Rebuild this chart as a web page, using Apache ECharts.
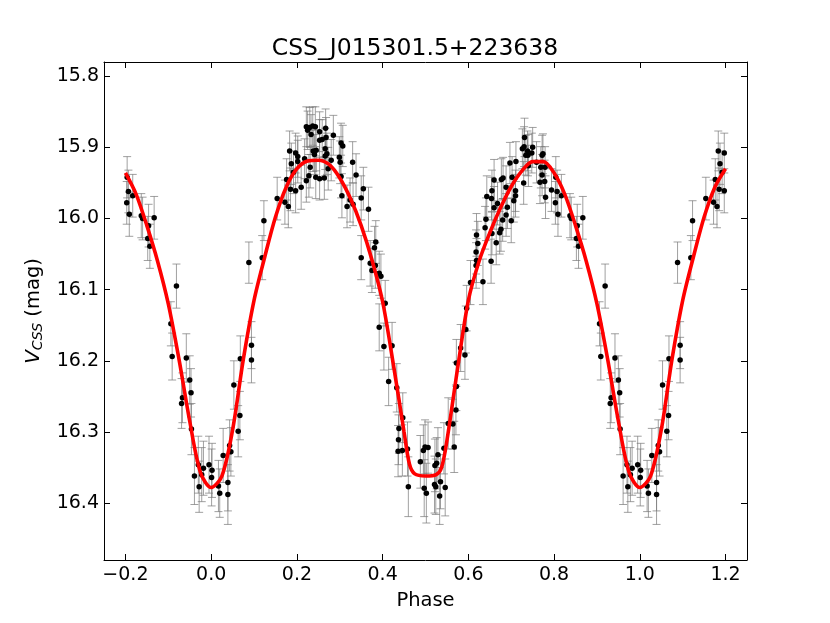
<!DOCTYPE html>
<html>
<head>
<meta charset="utf-8">
<script src="https://cdn.jsdelivr.net/npm/echarts@6/dist/echarts.min.js"></script>
<style>html,body{margin:0;padding:0;background:#fff}#c{width:830px;height:623px}</style>
</head>
<body>
<div id="c"></div>
<script>
const titleText = 'CSS_J015301.5+223638';
const xTicks = [-0.2, 0.0, 0.2, 0.4, 0.6, 0.8, 1.0, 1.2];
const yTicks = [15.8, 15.9, 16.0, 16.1, 16.2, 16.3, 16.4];

// observed photometry (phase 0..1), magnitudes and errors
const phase = [0.001,0.002,0.017,0.020,0.028,0.039,0.039,0.043,0.046,0.053,0.063,0.067,0.068,0.088,0.094,0.094,0.119,0.123,0.154,0.172,
0.176,0.180,0.183,0.185,0.187,0.192,0.197,0.197,0.202,0.202,0.210,0.218,0.222,0.222,0.225,0.228,0.230,0.231,0.233,0.237,
0.238,0.241,0.243,0.244,0.245,0.253,0.253,0.253,0.259,0.264,0.266,0.266,0.267,0.268,0.270,0.273,0.280,0.285,0.299,0.301,
0.303,0.303,0.305,0.307,0.317,0.324,0.330,0.331,0.338,0.350,0.350,0.355,0.367,0.371,0.375,0.381,0.383,0.384,0.392,0.392,
0.396,0.403,0.406,0.414,0.422,0.433,0.436,0.437,0.438,0.446,0.447,0.458,0.460,0.488,0.495,0.497,0.499,0.502,0.506,0.521,
0.522,0.524,0.526,0.529,0.533,0.535,0.543,0.546,0.553,0.564,0.567,0.571,0.572,0.572,0.582,0.592,0.594,0.596,0.605,0.618,
0.618,0.619,0.619,0.622,0.634,0.639,0.641,0.643,0.653,0.654,0.655,0.655,0.660,0.660,0.665,0.668,0.673,0.676,0.677,0.680,
0.681,0.688,0.688,0.691,0.697,0.700,0.702,0.706,0.710,0.710,0.711,0.726,0.729,0.730,0.731,0.734,0.738,0.739,0.740,0.748,
0.750,0.759,0.767,0.769,0.772,0.772,0.774,0.778,0.779,0.780,0.794,0.803,0.804,0.807,0.809,0.817,0.837,0.840,0.852,0.854,
0.857,0.867,0.906,0.909,0.919,0.931,0.933,0.942,0.950,0.953,0.954,0.961,0.970,0.972,0.978,0.982,0.995];
const mag = [16.364,16.354,16.376,16.386,16.333,16.371,16.388,16.319,16.328,16.234,16.299,16.277,16.197,16.062,16.178,16.199,16.055,16.003,15.972,15.977,
15.945,15.983,15.905,15.959,15.923,15.935,15.961,15.908,15.913,15.920,15.956,15.916,15.947,15.871,15.876,15.940,15.872,15.928,15.882,15.870,
15.905,15.910,15.871,15.942,15.904,15.878,15.890,15.944,15.889,15.943,15.902,15.912,15.873,15.886,15.909,15.930,15.918,15.883,15.914,15.921,
15.894,15.941,15.968,15.898,15.983,15.974,15.921,15.980,15.939,15.971,16.055,15.958,15.987,16.063,16.073,16.041,16.066,16.033,16.077,16.153,
16.081,16.180,16.119,16.229,16.179,16.238,16.327,16.311,16.295,16.326,16.280,16.324,16.377,16.342,16.326,16.379,16.321,16.386,16.322,16.374,
16.347,16.377,16.344,16.332,16.390,16.370,16.323,16.378,16.288,16.289,16.321,16.269,16.236,16.203,16.182,16.192,16.156,16.126,16.090,16.066,
16.047,16.059,16.023,16.035,16.089,16.013,16.001,15.969,16.060,15.972,15.961,16.021,15.946,15.985,16.034,15.979,16.020,16.015,15.945,16.002,
15.943,15.956,15.995,15.984,15.922,16.003,15.942,15.975,15.961,15.968,15.920,15.902,15.950,15.899,15.886,15.911,15.905,15.911,15.926,15.908,
15.900,15.921,15.949,15.928,15.911,15.939,15.909,15.948,15.928,15.970,15.960,15.978,15.942,15.962,15.994,15.968,15.996,16.000,16.028,16.010,
16.039,15.999,16.148,16.194,16.095,16.260,16.252,16.196,16.227,16.245,16.296,16.362,16.346,16.377,16.360,16.351,16.346];
const err = [0.040,0.038,0.036,0.034,0.038,0.040,0.042,0.036,0.034,0.034,0.036,0.034,0.032,0.029,0.033,0.032,0.031,0.028,0.030,0.031,
0.029,0.030,0.028,0.030,0.029,0.030,0.031,0.028,0.029,0.030,0.031,0.028,0.030,0.028,0.027,0.030,0.028,0.029,0.028,0.027,
0.029,0.028,0.028,0.030,0.029,0.028,0.029,0.030,0.028,0.030,0.029,0.028,0.027,0.028,0.029,0.030,0.029,0.028,0.029,0.030,
0.028,0.030,0.031,0.029,0.030,0.031,0.029,0.030,0.030,0.031,0.031,0.030,0.031,0.032,0.031,0.030,0.032,0.030,0.031,0.033,
0.031,0.033,0.032,0.034,0.033,0.034,0.036,0.035,0.035,0.036,0.035,0.038,0.042,0.037,0.036,0.040,0.038,0.042,0.036,0.040,
0.037,0.039,0.036,0.038,0.040,0.038,0.036,0.040,0.036,0.035,0.036,0.035,0.034,0.033,0.033,0.034,0.033,0.032,0.031,0.032,
0.031,0.031,0.030,0.031,0.032,0.030,0.030,0.029,0.031,0.030,0.029,0.030,0.029,0.030,0.031,0.030,0.030,0.031,0.029,0.030,
0.029,0.030,0.030,0.030,0.029,0.031,0.029,0.030,0.029,0.030,0.028,0.028,0.030,0.028,0.027,0.028,0.028,0.029,0.029,0.028,
0.028,0.029,0.030,0.029,0.028,0.029,0.028,0.030,0.029,0.030,0.030,0.030,0.029,0.030,0.031,0.030,0.031,0.030,0.031,0.030,
0.031,0.030,0.031,0.033,0.031,0.035,0.035,0.034,0.034,0.034,0.036,0.040,0.040,0.036,0.038,0.038,0.040];

// fitted model curve (one period)
const fitPhase = [0.000,0.025,0.050,0.075,0.100,0.125,0.150,0.175,0.200,0.225,0.250,0.275,0.300,0.325,0.350,0.375,0.400,0.425,0.450,0.4625,
0.475,0.500,0.525,0.5375,0.550,0.575,0.600,0.625,0.650,0.675,0.700,0.725,0.750,0.775,0.800,0.825,0.850,0.875,0.900,0.925,0.950,0.975];
const fitMag = [16.378,16.362,16.297,16.198,16.115,16.054,15.998,15.956,15.930,15.919,15.918,15.924,15.943,15.972,16.010,16.058,16.117,16.205,16.300,16.345,
16.359,16.362,16.360,16.350,16.312,16.210,16.115,16.060,16.020,15.985,15.955,15.933,15.920,15.920,15.936,15.966,16.010,16.060,16.120,16.198,16.285,16.357];

// phase-wrapped copies, as in the original plot (range -0.2 .. 1.2)
const pts = [];
for (let i = 0; i < phase.length; i++) {
  const p = phase[i];
  if (p >= 0.8) pts.push([p - 1, mag[i], err[i]]);
  pts.push([p, mag[i], err[i]]);
  if (p <= 0.2) pts.push([p + 1, mag[i], err[i]]);
}
const fit = [];
for (let i = 0; i < fitPhase.length; i++) {
  const p = fitPhase[i];
  if (p >= 0.8) fit.push([p - 1, fitMag[i]]);
  fit.push([p, fitMag[i]]);
  if (p <= 0.2) fit.push([p + 1, fitMag[i]]);
}
fit.sort((a, b) => a[0] - b[0]);

const FONT = 'DejaVu Sans';
const chart = echarts.init(document.getElementById('c'));
const fmt = v => v.toFixed(1).replace('-', '\u2212');

chart.setOption({
  animation: false,
  backgroundColor: '#fff',
  title: {
    text: titleText, left: 'center', top: 32,
    textStyle: { fontFamily: FONT, fontSize: 23.5, fontWeight: 'normal', color: '#000' }
  },
  grid: { left: 104, right: 83, top: 62, bottom: 63, outerBoundsMode: 'none', containLabel: false },
  xAxis: [{
    type: 'value', min: -0.25, max: 1.25, position: 'bottom',
    name: 'Phase', nameLocation: 'middle', nameGap: 31,
    nameTextStyle: { fontFamily: FONT, fontSize: 19.5, color: '#000' },
    axisLine: { show: true, onZero: false, lineStyle: { color: '#000', width: 1 } },
    axisTick: { show: true, inside: true, length: 6, customValues: xTicks, lineStyle: { color: '#000' } },
    axisLabel: { show: true, customValues: xTicks, formatter: fmt, margin: 6, fontFamily: FONT, fontSize: 19, color: '#000' },
    splitLine: { show: false }
  }, {
    type: 'value', min: -0.25, max: 1.25, position: 'top',
    axisLine: { show: true, onZero: false, lineStyle: { color: '#000', width: 1 } },
    axisTick: { show: true, inside: true, length: 6, customValues: xTicks, lineStyle: { color: '#000' } },
    axisLabel: { show: false },
    splitLine: { show: false }
  }],
  yAxis: [{
    type: 'value', min: 15.78, max: 16.48, inverse: true, position: 'left',
    name: '{v|V}{s|CSS}{n| (mag)}', nameLocation: 'middle', nameGap: 54, nameRotate: 90,
    nameTextStyle: {
      fontFamily: FONT, fontSize: 19.5, color: '#000',
      rich: {
        v: { fontFamily: FONT, fontSize: 20, fontStyle: 'italic', color: '#000', lineHeight: 24, verticalAlign: 'middle' },
        s: { fontFamily: FONT, fontSize: 14, fontStyle: 'italic', color: '#000', lineHeight: 14, verticalAlign: 'bottom' },
        n: { fontFamily: FONT, fontSize: 19.5, color: '#000', lineHeight: 24, verticalAlign: 'middle' }
      }
    },
    axisLine: { show: true, onZero: false, lineStyle: { color: '#000', width: 1 } },
    axisTick: { show: true, inside: true, length: 6, customValues: yTicks, lineStyle: { color: '#000' } },
    axisLabel: { show: true, customValues: yTicks, formatter: v => v.toFixed(1), margin: 5, fontFamily: FONT, fontSize: 19, color: '#000' },
    splitLine: { show: false }
  }, {
    type: 'value', min: 15.78, max: 16.48, inverse: true, position: 'right',
    axisLine: { show: true, onZero: false, lineStyle: { color: '#000', width: 1 } },
    axisTick: { show: true, inside: true, length: 6, customValues: yTicks, lineStyle: { color: '#000' } },
    axisLabel: { show: false },
    splitLine: { show: false }
  }],
  series: [{
    type: 'custom',
    name: 'errors',
    xAxisIndex: 0, yAxisIndex: 0,
    clip: true,
    z: 1,
    data: pts,
    encode: { x: 0, y: 1 },
    renderItem: function (params, api) {
      const x = api.value(0), y = api.value(1), e = api.value(2);
      const lo = api.coord([x, y - e]);
      const hi = api.coord([x, y + e]);
      const cw = 4;
      const st = { stroke: 'rgba(120,120,120,0.7)', lineWidth: 1 };
      return {
        type: 'group',
        children: [
          { type: 'line', shape: { x1: lo[0], y1: lo[1], x2: hi[0], y2: hi[1] }, style: st },
          { type: 'line', shape: { x1: lo[0] - cw, y1: lo[1], x2: lo[0] + cw, y2: lo[1] }, style: st },
          { type: 'line', shape: { x1: hi[0] - cw, y1: hi[1], x2: hi[0] + cw, y2: hi[1] }, style: st }
        ]
      };
    }
  }, {
    type: 'scatter',
    name: 'data',
    xAxisIndex: 0, yAxisIndex: 0,
    data: pts.map(d => [d[0], d[1]]),
    symbol: 'circle', symbolSize: 5.5,
    itemStyle: { color: '#000', opacity: 1 },
    z: 2
  }, {
    type: 'line',
    name: 'fit',
    xAxisIndex: 0, yAxisIndex: 0,
    data: fit,
    showSymbol: false, symbol: 'none',
    smooth: 0.3,
    lineStyle: { color: '#ff0000', width: 3.6 },
    z: 3
  }]
});
</script>
</body>
</html>
